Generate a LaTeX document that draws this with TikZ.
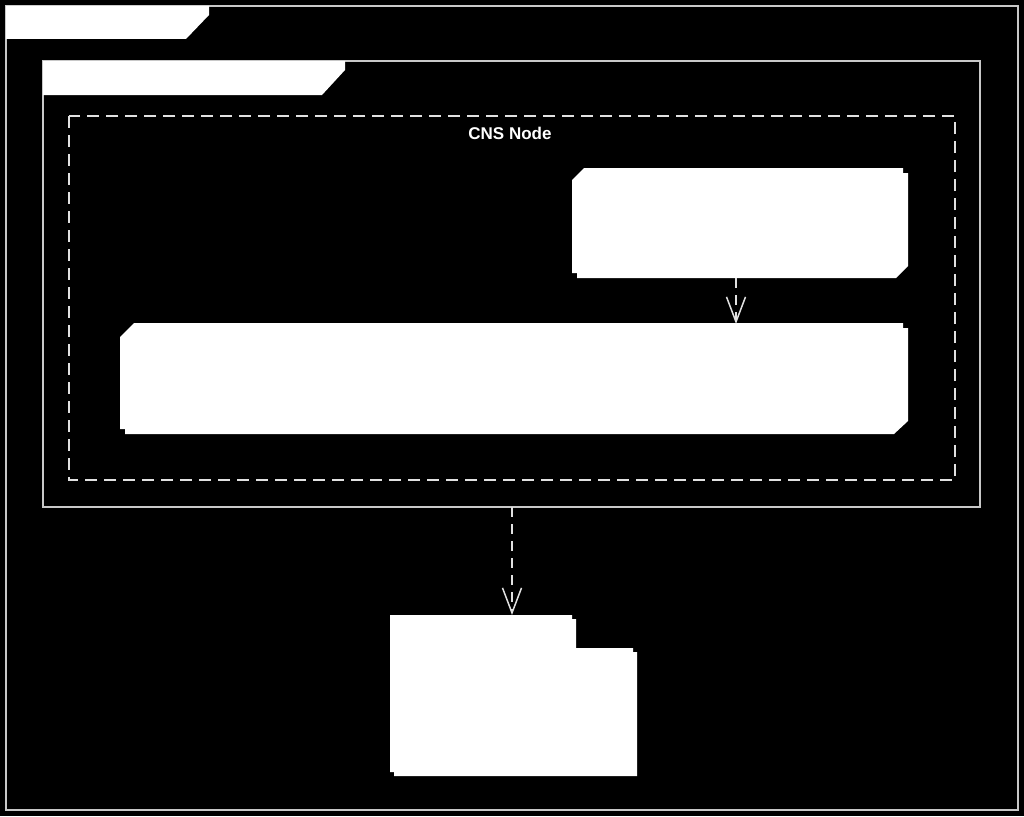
\documentclass[tikz,border=0pt]{standalone}
\usepackage{fontspec}
\setmainfont{Liberation Sans}
\usetikzlibrary{arrows.meta}
\definecolor{framegray}{RGB}{200,200,200}
\definecolor{dashgray}{RGB}{225,225,225}
\begin{document}
\begin{tikzpicture}[x=1pt,y=-1pt,
  frameline/.style={draw=framegray,line width=1.5pt},
  tabfill/.style={fill=white,draw=none},
  boxfill/.style={fill=white,draw=none},
  dashbox/.style={draw=dashgray,line width=1.5pt,dash pattern=on 12pt off 7pt},
  deparrow/.style={draw=dashgray,line width=1.5pt,dash pattern=on 10pt off 7pt,
     -{Straight Barb[length=25pt,width=19pt,line width=1.5pt]}},
  anchorbox/.style={inner sep=0pt,outer sep=0pt,draw=none}]
\fill[black] (0,0) rectangle (1024,816);
\useasboundingbox (0,0) rectangle (1024,816);
% outer frame
\node[anchorbox,minimum width=1012pt,minimum height=804pt] (outer) at (512,408) {};
\draw[frameline] (6,6) rectangle (1018,810);
\fill[tabfill] (6,6) -- (209,6) -- (209,15) -- (186,39) -- (6,39) -- cycle;
% inner frame
\node[anchorbox,minimum width=937pt,minimum height=446pt] (inner) at (511.5,284) {};
\draw[frameline] (43,61) rectangle (980,507);
\fill[tabfill] (43,61) -- (345,61) -- (345,70) -- (322,95) -- (43,95) -- cycle;
% dashed node
\node[anchorbox,minimum width=885pt,minimum height=364pt] (cns) at (511.5,298) {};
\draw[dashbox] (69,116) rectangle (955,480);
\node[text=white,font=\fontsize{17}{19}\selectfont\bfseries] (cnslabel) at (510,133) {CNS Node};
% box 1
\node[anchorbox,minimum width=336pt,minimum height=110pt] (boxA) at (740,223) {};
\fill[boxfill] (577+12,173) -- (908,173) -- (908,278-12) -- (908-12,278) -- (577,278) -- (577,173+12) -- cycle;
\fill[boxfill] (572+12,168) -- (903,168) -- (903,273-12) -- (903-12,273) -- (572,273) -- (572,168+12) -- cycle;
% box 2
\node[anchorbox,minimum width=788pt,minimum height=111pt] (boxB) at (514,378.5) {};
\fill[boxfill] (125+14,328) -- (908,328) -- (908,434-13) -- (908-14,434) -- (125,434) -- (125,328+14) -- cycle;
\fill[boxfill] (120+14,323) -- (903,323) -- (903,429-13) -- (903-14,429) -- (120,429) -- (120,323+14) -- cycle;
% package
\node[anchorbox,minimum width=247pt,minimum height=161pt] (pkg) at (513.5,695.5) {};
\fill[boxfill] (394,619) -- (576,619) -- (576,652) -- (637,652) -- (637,776) -- (394,776) -- cycle;
\fill[boxfill] (390,615) -- (572,615) -- (572,648) -- (633,648) -- (633,772) -- (390,772) -- cycle;
% connectors
\coordinate (aSrc) at (736,278);
\coordinate (bDst) at (736,324);
\draw[deparrow] (aSrc) -- (bDst);
\coordinate (innerBot) at (512,507);
\coordinate (pkgTop) at (512,615);
\draw[deparrow] (innerBot) -- (pkgTop);
\end{tikzpicture}
\end{document}
